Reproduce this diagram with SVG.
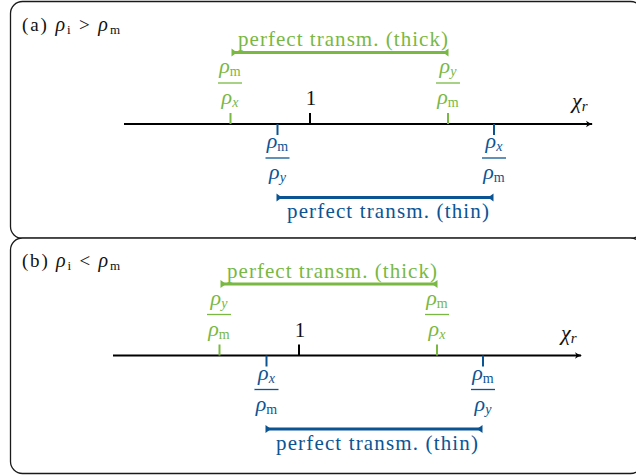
<svg xmlns="http://www.w3.org/2000/svg" width="636" height="476" viewBox="0 0 636 476">
<style>
text{font-family:"Liberation Serif","Times New Roman",serif;}
.box{fill:#fff;stroke:#1a1a1a;stroke-width:1.3;}
.lbl{font-size:19px;fill:#111;}
.num{font-size:21px;text-anchor:middle;}
.rho{font-style:italic;font-size:22px;}
.it{font-style:italic;}
.sub{font-size:14px;}
.g{fill:#78b843;}
.b{fill:#0b5494;}
.k{fill:#111;}
.axis{stroke:#000;stroke-width:2;fill:none;}
.tk{stroke-width:2;}
.tg{stroke:#78b843;}
.tb{stroke:#0b5494;}
.bar{stroke-width:1.3;}
.rng{stroke-width:3;fill:none;}
</style>
<defs>
<marker id="ax" viewBox="-8 -5 10 10" refX="0" refY="0" markerWidth="10" markerHeight="10" markerUnits="userSpaceOnUse" orient="auto">
<path d="M-6,-3.2 Q-3,-0.8 1,0 Q-3,0.8 -6,3.2 L-4.5,0 Z" fill="#000"/>
</marker>
<marker id="mg" viewBox="-8 -6 10 12" refX="0" refY="0" markerWidth="10" markerHeight="12" markerUnits="userSpaceOnUse" orient="auto-start-reverse">
<path d="M0.5,-4 L0.5,4 L-5,0 Z" fill="#78b843"/>
</marker>
<marker id="mb" viewBox="-8 -6 10 12" refX="0" refY="0" markerWidth="10" markerHeight="12" markerUnits="userSpaceOnUse" orient="auto-start-reverse">
<path d="M0.5,-4 L0.5,4 L-5,0 Z" fill="#0b5494"/>
</marker>
</defs>

<g id="panel-a">
<rect class="box" x="10.5" y="1.5" width="632" height="237" rx="12"/>
<text class="lbl" x="22" y="31" textLength="98" lengthAdjust="spacing">(a) <tspan class="it" font-size="20">ρ</tspan><tspan font-size="13" dy="3">i</tspan><tspan dy="-3"> &gt; </tspan><tspan class="it" font-size="20">ρ</tspan><tspan font-size="13" dy="3">m</tspan></text>
</g>
<g id="panel-b">
<rect class="box" x="10.5" y="238" width="632" height="235.5" rx="12"/>
<text class="lbl" x="22" y="267" textLength="98" lengthAdjust="spacing">(b) <tspan class="it" font-size="20">ρ</tspan><tspan font-size="13" dy="3">i</tspan><tspan dy="-3"> &lt; </tspan><tspan class="it" font-size="20">ρ</tspan><tspan font-size="13" dy="3">m</tspan></text>
</g>

<g id="connectors">
<g id="conn-a">
<line class="axis" x1="124" y1="124" x2="592" y2="124" marker-end="url(#ax)"/>
<line class="rng tg" x1="232" y1="52.5" x2="448" y2="52.5" marker-start="url(#mg)" marker-end="url(#mg)"/>
<line class="rng tb" x1="277" y1="197.5" x2="493" y2="197.5" marker-start="url(#mb)" marker-end="url(#mb)"/>
</g>
<g id="conn-b" transform="translate(-11,231.5)">
<line class="axis" x1="124" y1="124" x2="592" y2="124" marker-end="url(#ax)"/>
<line class="rng tg" x1="232" y1="52.5" x2="448" y2="52.5" marker-start="url(#mg)" marker-end="url(#mg)"/>
<line class="rng tb" x1="277" y1="197.5" x2="493" y2="197.5" marker-start="url(#mb)" marker-end="url(#mb)"/>
</g>
</g>

<g id="axis-a">
<text class="num g" x="343" y="46" textLength="210" lengthAdjust="spacing">perfect transm. (thick)</text>
<text class="num b" x="388" y="218" textLength="202" lengthAdjust="spacing">perfect transm. (thin)</text>
<g id="tick-1-a">
<line class="tk" stroke="#000" x1="310" y1="113" x2="310" y2="124"/>
<text class="num k" x="311" y="105">1</text>
</g>
<g id="chi-a"><text class="k" x="572" y="108" font-size="22"><tspan class="it">χ</tspan><tspan class="it" font-size="15" dy="3">r</tspan></text></g>
<g id="g-left-a">
<line class="tk tg" x1="230.5" y1="113" x2="230.5" y2="124"/>
<line class="bar tg" x1="218" y1="83" x2="242" y2="83"/>
<text class="num g" x="230" y="73"><tspan class="rho">ρ</tspan><tspan class="sub" dy="3">m</tspan></text>
<text class="num g" x="230" y="104"><tspan class="rho">ρ</tspan><tspan class="sub it" dy="3">x</tspan></text>
</g>
<g id="g-right-a">
<line class="tk tg" x1="448" y1="113" x2="448" y2="124"/>
<line class="bar tg" x1="436" y1="83" x2="460" y2="83"/>
<text class="num g" x="448" y="73"><tspan class="rho">ρ</tspan><tspan class="sub it" dy="3">y</tspan></text>
<text class="num g" x="448" y="104"><tspan class="rho">ρ</tspan><tspan class="sub" dy="3">m</tspan></text>
</g>
<g id="b-left-a">
<line class="tk tb" x1="277.5" y1="124" x2="277.5" y2="135"/>
<line class="bar tb" x1="265.5" y1="158" x2="289.5" y2="158"/>
<text class="num b" x="277.5" y="148"><tspan class="rho">ρ</tspan><tspan class="sub" dy="3">m</tspan></text>
<text class="num b" x="277.5" y="179"><tspan class="rho">ρ</tspan><tspan class="sub it" dy="3">y</tspan></text>
</g>
<g id="b-right-a">
<line class="tk tb" x1="494" y1="124" x2="494" y2="135"/>
<line class="bar tb" x1="482" y1="158" x2="506" y2="158"/>
<text class="num b" x="494" y="148"><tspan class="rho">ρ</tspan><tspan class="sub it" dy="3">x</tspan></text>
<text class="num b" x="494" y="179"><tspan class="rho">ρ</tspan><tspan class="sub" dy="3">m</tspan></text>
</g>
</g>

<g id="axis-b" transform="translate(-11,231.5)">
<text class="num g" x="343" y="46" textLength="210" lengthAdjust="spacing">perfect transm. (thick)</text>
<text class="num b" x="388" y="218" textLength="202" lengthAdjust="spacing">perfect transm. (thin)</text>
<g id="tick-1-b">
<line class="tk" stroke="#000" x1="310" y1="113" x2="310" y2="124"/>
<text class="num k" x="311" y="105">1</text>
</g>
<g id="chi-b"><text class="k" x="572" y="108" font-size="22"><tspan class="it">χ</tspan><tspan class="it" font-size="15" dy="3">r</tspan></text></g>
<g id="g-left-b">
<line class="tk tg" x1="230.5" y1="113" x2="230.5" y2="124"/>
<line class="bar tg" x1="218" y1="83" x2="242" y2="83"/>
<text class="num g" x="230" y="73"><tspan class="rho">ρ</tspan><tspan class="sub it" dy="3">y</tspan></text>
<text class="num g" x="230" y="104"><tspan class="rho">ρ</tspan><tspan class="sub" dy="3">m</tspan></text>
</g>
<g id="g-right-b">
<line class="tk tg" x1="448" y1="113" x2="448" y2="124"/>
<line class="bar tg" x1="436" y1="83" x2="460" y2="83"/>
<text class="num g" x="448" y="73"><tspan class="rho">ρ</tspan><tspan class="sub" dy="3">m</tspan></text>
<text class="num g" x="448" y="104"><tspan class="rho">ρ</tspan><tspan class="sub it" dy="3">x</tspan></text>
</g>
<g id="b-left-b">
<line class="tk tb" x1="277.5" y1="124" x2="277.5" y2="135"/>
<line class="bar tb" x1="265.5" y1="158" x2="289.5" y2="158"/>
<text class="num b" x="277.5" y="148"><tspan class="rho">ρ</tspan><tspan class="sub it" dy="3">x</tspan></text>
<text class="num b" x="277.5" y="179"><tspan class="rho">ρ</tspan><tspan class="sub" dy="3">m</tspan></text>
</g>
<g id="b-right-b">
<line class="tk tb" x1="494" y1="124" x2="494" y2="135"/>
<line class="bar tb" x1="482" y1="158" x2="506" y2="158"/>
<text class="num b" x="494" y="148"><tspan class="rho">ρ</tspan><tspan class="sub" dy="3">m</tspan></text>
<text class="num b" x="494" y="179"><tspan class="rho">ρ</tspan><tspan class="sub it" dy="3">y</tspan></text>
</g>
</g>
</svg>
